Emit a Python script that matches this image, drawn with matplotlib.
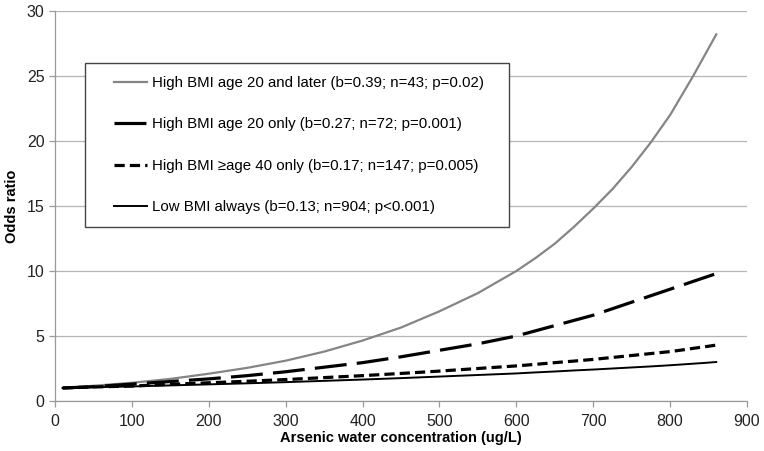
import matplotlib
matplotlib.use("Agg")
import matplotlib.pyplot as plt
from matplotlib.patches import Rectangle

plt.rcParams['font.family'] = ['Liberation Sans', 'DejaVu Sans']

# values
x = [10, 50, 100, 150, 200, 250, 300, 350, 400, 450, 500, 550, 600, 625, 650, 675, 700, 725, 750, 775, 800, 815, 830, 845, 860]
high_later = [1.0, 1.17, 1.4, 1.7, 2.1, 2.55, 3.1, 3.8, 4.65, 5.65, 6.9, 8.3, 10.0, 11.0, 12.1, 13.4, 14.8, 16.3, 18.0, 19.9, 22.0, 23.5, 25.0, 26.6, 28.2]
high_20 = [1.0, 1.1, 1.3, 1.5, 1.7, 1.95, 2.25, 2.6, 2.95, 3.4, 3.9, 4.4, 5.0, 5.4, 5.8, 6.2, 6.6, 7.1, 7.6, 8.1, 8.6, 8.9, 9.2, 9.5, 9.8]
high_40 = [1.0, 1.08, 1.15, 1.28, 1.4, 1.52, 1.65, 1.8, 1.95, 2.12, 2.3, 2.5, 2.7, 2.82, 2.95, 3.07, 3.2, 3.35, 3.5, 3.65, 3.8, 3.92, 4.05, 4.17, 4.3]
low_bmi = [1.0, 1.06, 1.12, 1.2, 1.28, 1.36, 1.45, 1.55, 1.65, 1.76, 1.88, 2.0, 2.12, 2.2, 2.27, 2.35, 2.42, 2.5, 2.58, 2.66, 2.75, 2.81, 2.87, 2.93, 3.0]

labels = ["High BMI age 20 and later (b=0.39; n=43; p=0.02)",
          "High BMI age 20 only (b=0.27; n=72; p=0.001)",
          "High BMI \u2265age 40 only (b=0.17; n=147; p=0.005)",
          "Low BMI always (b=0.13; n=904; p<0.001)"]

xticks = [0, 100, 200, 300, 400, 500, 600, 700, 800, 900]
yticks = [0, 5, 10, 15, 20, 25, 30]

W, H = 764, 451
fig = plt.figure(figsize=(W/100, H/100), dpi=100)
ax = fig.add_axes([55/W, 50/H, 692/W, 390/H])

ax.plot(x, high_later, color='#858585', lw=1.6, label=labels[0])
l2, = ax.plot(x, high_20, color='black', lw=2.3, label=labels[1])
l2.set_dashes((10, 3.2))
l3, = ax.plot(x, high_40, color='black', lw=2.3, label=labels[2])
l3.set_dashes((3.2, 1.6))
ax.plot(x, low_bmi, color='black', lw=1.4, label=labels[3])

ax.set_xlim(0, 900)
ax.set_ylim(0, 30)
ax.set_xticks(xticks)
ax.set_yticks(yticks)
ax.yaxis.grid(True, color='#b4b4b4', lw=0.9)
ax.set_axisbelow(True)
for s in ['top', 'right']:
    ax.spines[s].set_visible(False)
for s in ['left', 'bottom']:
    ax.spines[s].set_color('#999999')
    ax.spines[s].set_linewidth(0.9)
ax.tick_params(axis='both', colors='#999999', labelcolor='#222222', labelsize=11.5, length=4, width=0.9)
ax.tick_params(axis='x', pad=5)
ax.set_xlabel("Arsenic water concentration (ug/L)", fontsize=10.5, fontweight='bold', labelpad=2)
ax.set_ylabel("Odds ratio", fontsize=10.5, fontweight='bold', labelpad=6)

# legend without frame, box drawn separately
box = Rectangle((85/W, 1 - 227/H), 424/W, 164/H, transform=fig.transFigure,
                facecolor='white', edgecolor='#444444', lw=1.0, zorder=4, clip_on=False)
ax.add_patch(box)
leg = ax.legend(loc='upper left', bbox_to_anchor=(114/W, 1 - 76/H), bbox_transform=fig.transFigure,
                fontsize=10.8, frameon=False,
                handlelength=2.2, handletextpad=0.3, labelspacing=1.83,
                borderpad=0, borderaxespad=0)
leg.set_zorder(6)

fig.savefig("out.png", dpi=100)
